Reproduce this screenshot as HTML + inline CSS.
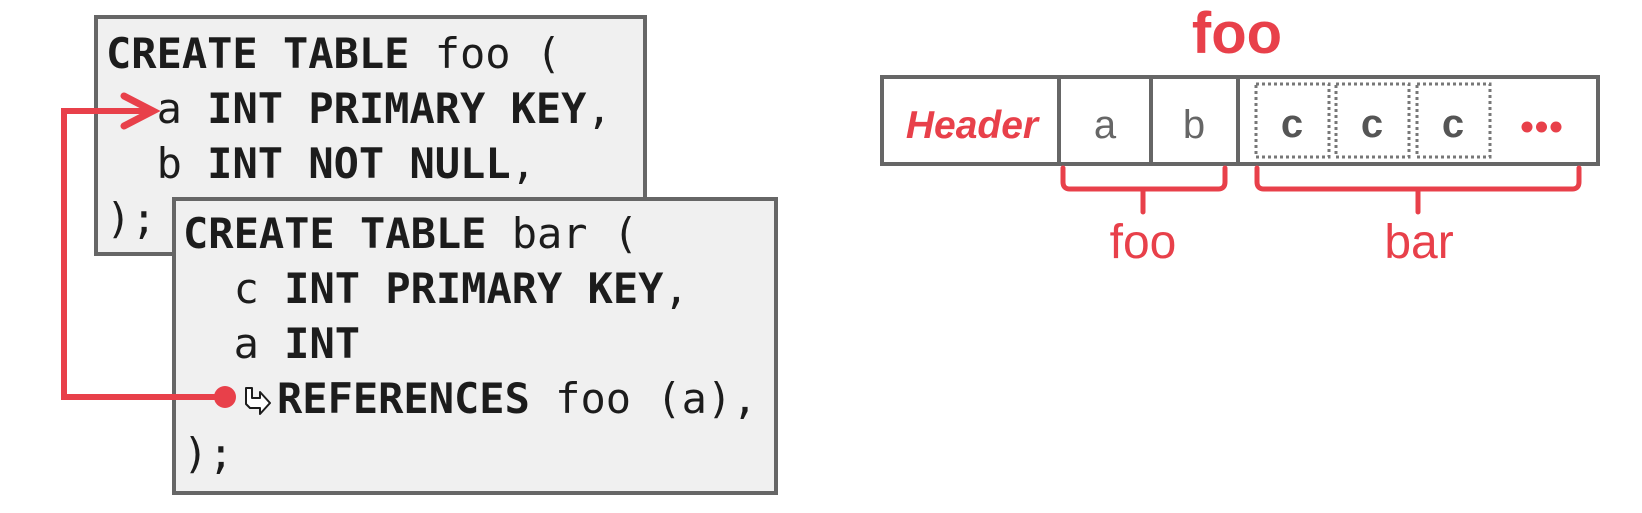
<!DOCTYPE html>
<html>
<head>
<meta charset="utf-8">
<style>
  html, body { margin:0; padding:0; background:#ffffff; }
  body { width:1642px; height:513px; overflow:hidden; }
  svg { display:block; }
  .mono { font-family: "DejaVu Sans Mono", "Liberation Mono", monospace; font-size:42px; fill:#1c1c1c; }
  .b { font-weight:bold; }
  .sans { font-family: "Liberation Sans", sans-serif; }
</style>
</head>
<body>
<svg width="1642" height="513" viewBox="0 0 1642 513" xmlns="http://www.w3.org/2000/svg">
  <!-- foo table box -->
  <rect x="96" y="17" width="549" height="237" fill="#f0f0f0" stroke="#666666" stroke-width="4"/>
  <text class="mono" x="106" y="68"><tspan class="b">CREATE TABLE</tspan> foo (</text>
  <text class="mono" x="156.6" y="123">a <tspan class="b">INT PRIMARY KEY</tspan>,</text>
  <text class="mono" x="156.6" y="178">b <tspan class="b">INT NOT NULL</tspan>,</text>
  <text class="mono" x="106" y="233">);</text>

  <!-- bar table box -->
  <rect x="174" y="199" width="602" height="294" fill="#f0f0f0" stroke="#666666" stroke-width="4"/>
  <text class="mono" x="183" y="248"><tspan class="b">CREATE TABLE</tspan> bar (</text>
  <text class="mono" x="233.6" y="303">c <tspan class="b">INT PRIMARY KEY</tspan>,</text>
  <text class="mono" x="233.6" y="358">a <tspan class="b">INT</tspan></text>
  <text class="mono" x="277" y="413"><tspan class="b">REFERENCES</tspan> foo (a),</text>
  <text class="mono" x="183" y="468">);</text>

  <!-- small hollow arrow icon -->
  <path d="M246,388 L252,388 L252,398 L260,398 L260,392 L270,403 L260,414 L260,408 L250,408 L246,404 Z"
        fill="#ffffff" stroke="#1c1c1c" stroke-width="2" stroke-linejoin="round"/>

  <!-- red connector -->
  <polyline points="225,397 64,397 64,111 150,111" fill="none" stroke="#e8404a" stroke-width="6" stroke-linejoin="miter"/>
  <polyline points="124,96 153,111 124,126" fill="none" stroke="#e8404a" stroke-width="7" stroke-linejoin="miter" stroke-linecap="round"/>
  <circle cx="225" cy="397" r="11" fill="#e8404a"/>

  <!-- right diagram title -->
  <text class="sans" x="1237" y="53" text-anchor="middle" font-size="58" font-weight="bold" fill="#e8404a">foo</text>

  <!-- tuple row -->
  <rect x="882" y="77" width="716" height="87" fill="#ffffff" stroke="#666666" stroke-width="4"/>
  <line x1="1059" y1="75" x2="1059" y2="166" stroke="#666666" stroke-width="4"/>
  <line x1="1151" y1="75" x2="1151" y2="166" stroke="#666666" stroke-width="4"/>
  <line x1="1238" y1="75" x2="1238" y2="166" stroke="#666666" stroke-width="4"/>

  <!-- dotted c boxes -->
  <rect x="1256" y="84" width="73" height="73" fill="none" stroke="#777777" stroke-width="3" stroke-dasharray="3 3"/>
  <rect x="1336" y="84" width="73" height="73" fill="none" stroke="#777777" stroke-width="3" stroke-dasharray="3 3"/>
  <rect x="1417" y="84" width="73" height="73" fill="none" stroke="#777777" stroke-width="3" stroke-dasharray="3 3"/>

  <text class="sans" x="972" y="138" text-anchor="middle" font-size="39" font-weight="bold" font-style="italic" fill="#e8404a">Header</text>
  <text class="sans" x="1105" y="138" text-anchor="middle" font-size="40" fill="#666666">a</text>
  <text class="sans" x="1194" y="138" text-anchor="middle" font-size="40" fill="#666666">b</text>
  <text class="sans" x="1292" y="137" text-anchor="middle" font-size="40" font-weight="bold" fill="#555555">c</text>
  <text class="sans" x="1372" y="137" text-anchor="middle" font-size="40" font-weight="bold" fill="#555555">c</text>
  <text class="sans" x="1453" y="137" text-anchor="middle" font-size="40" font-weight="bold" fill="#555555">c</text>
  <circle cx="1527" cy="127" r="5.5" fill="#e8404a"/>
  <circle cx="1541.5" cy="127" r="5.5" fill="#e8404a"/>
  <circle cx="1556" cy="127" r="5.5" fill="#e8404a"/>

  <!-- brackets -->
  <path d="M1063,168 L1063,182 Q1063,189 1070,189 L1218,189 Q1225,189 1225,182 L1225,168 M1143,189 L1143,212"
        fill="none" stroke="#e8404a" stroke-width="5" stroke-linecap="round" stroke-linejoin="round"/>
  <path d="M1257,168 L1257,182 Q1257,189 1264,189 L1572,189 Q1579,189 1579,182 L1579,168 M1418,189 L1418,212"
        fill="none" stroke="#e8404a" stroke-width="5" stroke-linecap="round" stroke-linejoin="round"/>

  <text class="sans" x="1143" y="258" text-anchor="middle" font-size="48" fill="#e8404a">foo</text>
  <text class="sans" x="1419" y="258" text-anchor="middle" font-size="48" fill="#e8404a">bar</text>
</svg>
</body>
</html>
